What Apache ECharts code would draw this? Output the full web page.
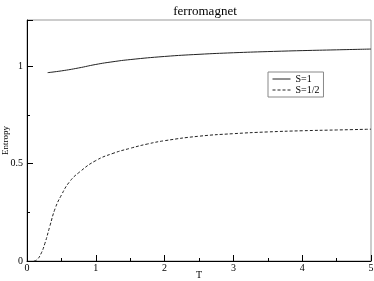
<!DOCTYPE html>
<html><head><meta charset="utf-8">
<script src="https://cdn.jsdelivr.net/npm/echarts@6/dist/echarts.min.js"></script>
<style>html,body{margin:0;padding:0;background:#fff}#c{width:374px;height:281px}</style>
</head><body><div id="c"></div>
<script>
const titleText = 'ferromagnet';
const xName = 'T';
const yName = 'Entropy';
const seriesNames = ['S=1', 'S=1/2'];
const tS1 = [0.3, 0.5, 0.75, 1.0, 1.25, 1.5, 2.0, 2.5, 3.0, 3.5, 4.0, 4.5, 5.0];
const sS1 = [0.966, 0.975, 0.99, 1.008, 1.022, 1.033, 1.049, 1.060, 1.068, 1.074, 1.079, 1.083, 1.087];
const tS2 = [0.1, 0.14, 0.2, 0.26, 0.33, 0.41, 0.5, 0.62, 0.77, 1.0, 1.25, 1.5, 1.75, 2.0, 2.5, 3.0, 3.5, 4.0, 4.5, 5.0];
const sS2 = [0.0, 0.005, 0.035, 0.09, 0.176, 0.27, 0.338, 0.407, 0.458, 0.515, 0.552, 0.578, 0.600, 0.617, 0.640, 0.653, 0.662, 0.668, 0.672, 0.676];

const font = 'Liberation Serif';
const chart = echarts.init(document.getElementById('c'));
chart.setOption({
  animation: false,
  title: { text: titleText, left: 200, top: 0, textAlign: 'center',
    textStyle: { fontFamily: font, fontSize: 13, fontWeight: 'normal', color: '#000' } },
  grid: { left: 27, right: 3, top: 20, bottom: 20, show: true, borderColor: '#999', borderWidth: 1,
    containLabel: false, outerBoundsMode: 'none' },
  legend: {
    left: 268, top: 72, orient: 'vertical', borderColor: '#888', borderWidth: 1,
    padding: [2, 4, 2, 4], itemGap: 1, itemWidth: 18, itemHeight: 8,
    itemStyle: { color: 'transparent', borderWidth: 0 },
    lineStyle: { width: 1 },
    textStyle: { fontFamily: font, fontSize: 10, color: '#000' },
    data: seriesNames
  },
  xAxis: {
    type: 'value', min: 0, max: 5, interval: 1,
    name: xName, nameLocation: 'middle', nameGap: 9, nameMoveOverlap: false,
    nameTextStyle: { fontFamily: font, fontSize: 10, color: '#000' },
    axisLine: { lineStyle: { color: '#000', width: 1 } },
    axisTick: { inside: true, length: 6, lineStyle: { color: '#000' } },
    minorTick: { show: true, splitNumber: 2, length: 3, lineStyle: { color: '#000' } },
    axisLabel: { fontFamily: font, fontSize: 10, color: '#000', margin: 2 },
    splitLine: { show: false }
  },
  yAxis: {
    type: 'value', min: 0, max: 1.236, interval: 0.5,
    name: yName, nameLocation: 'middle', nameGap: 17, nameMoveOverlap: false,
    nameTextStyle: { fontFamily: font, fontSize: 9, color: '#000' },
    axisLine: { lineStyle: { color: '#000', width: 1 } },
    axisTick: { inside: true, length: 6, lineStyle: { color: '#000' } },
    minorTick: { show: true, splitNumber: 2, length: 3, lineStyle: { color: '#000' } },
    axisLabel: { fontFamily: font, fontSize: 10, color: '#000', margin: 4, showMaxLabel: false,
      formatter: v => (v > 1.2 ? '' : String(v)) },
    splitLine: { show: false }
  },
  series: [
    { name: seriesNames[0], type: 'line', smooth: true, symbol: 'none', showSymbol: false,
      data: tS1.map((t, i) => [t, sS1[i]]), lineStyle: { color: '#222', width: 1, type: 'solid' }, itemStyle: { color: '#222' } },
    { name: seriesNames[1], type: 'line', smooth: true, symbol: 'none', showSymbol: false,
      data: tS2.map((t, i) => [t, sS2[i]]), lineStyle: { color: '#222', width: 1, type: [3, 2] }, itemStyle: { color: '#222' } }
  ]
});
</script></body></html>
